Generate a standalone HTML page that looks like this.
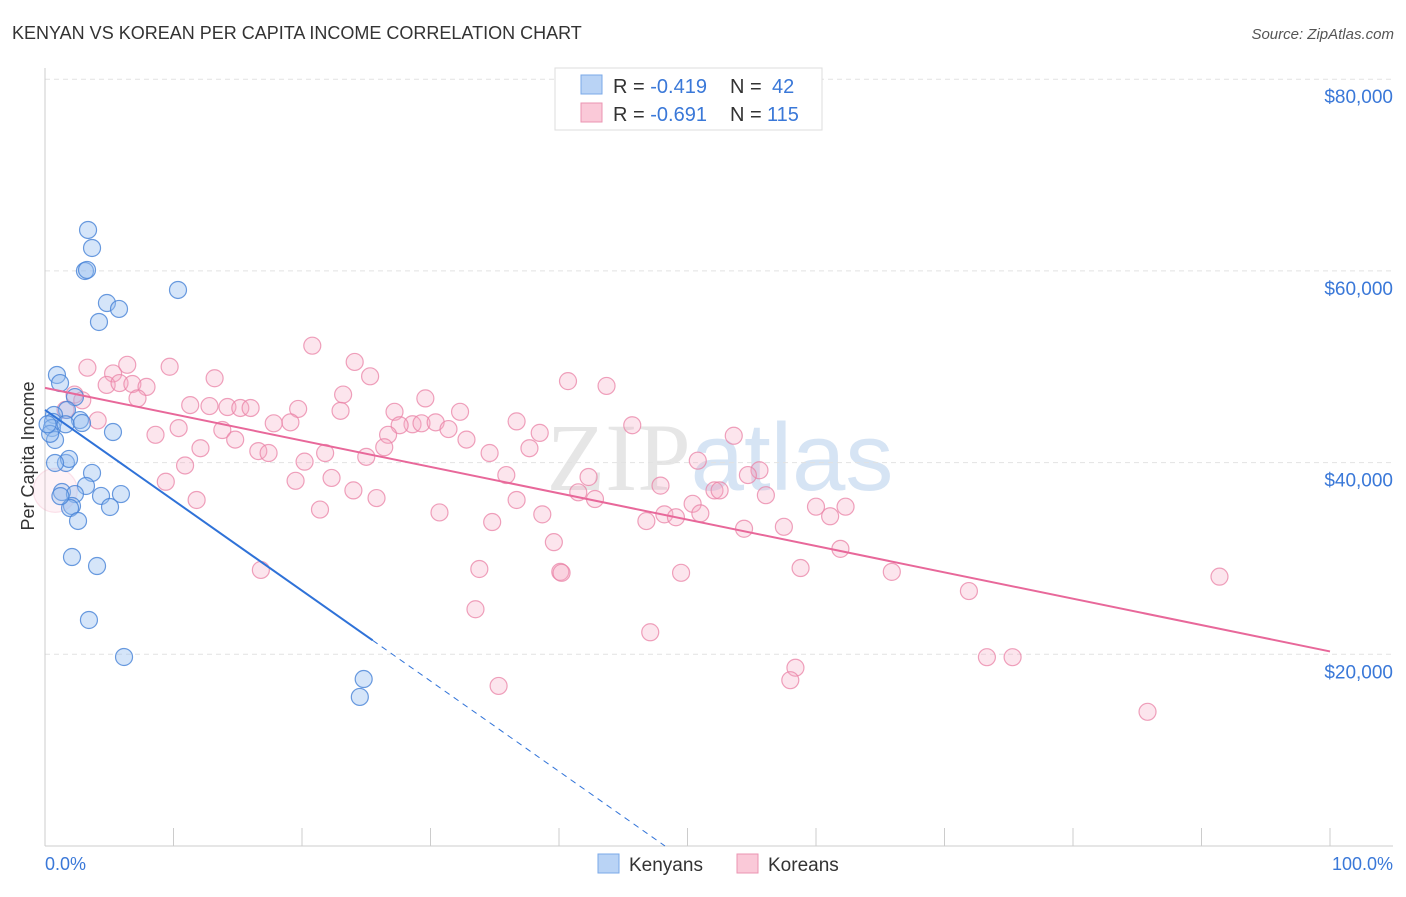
<!DOCTYPE html>
<html><head><meta charset="utf-8"><style>
body{margin:0;background:#fff;font-family:"Liberation Sans",sans-serif;}
</style></head><body>
<svg id="chart" width="1406" height="892" xmlns="http://www.w3.org/2000/svg">
<text x="12" y="39" font-size="18" fill="#333">KENYAN VS KOREAN PER CAPITA INCOME CORRELATION CHART</text>
<text x="1394" y="39" font-size="15" fill="#555" font-style="italic" text-anchor="end">Source: ZipAtlas.com</text>
<text x="720" y="490" font-size="96" fill="#e6e6e6" text-anchor="middle" font-family="Liberation Serif, serif">ZIP<tspan fill="#d6e4f4" font-family="Liberation Sans, sans-serif">atlas</tspan></text>
<g id="grid"></g><g id="axes"></g><g id="pts"></g><g id="lines"></g>
<text transform="translate(34,456) rotate(-90)" font-size="18" fill="#333" text-anchor="middle">Per Capita Income</text>
<text x="45" y="870" font-size="18" fill="#3a78d8">0.0%</text>
<text x="1393" y="870" font-size="18" fill="#3a78d8" text-anchor="end">100.0%</text>
<g>
<rect x="555" y="68" width="267" height="62" fill="#fff" stroke="#ddd"/>
<rect x="581" y="75" width="21" height="19" fill="#b9d3f5" stroke="#7aa8e8"/>
<rect x="581" y="103" width="21" height="19" fill="#fac9d8" stroke="#eb94b2"/>
<text x="613" y="93" font-size="20" fill="#333">R = <tspan fill="#3a78d8">-0.419</tspan><tspan x="730">N = </tspan><tspan fill="#3a78d8" x="772">42</tspan></text>
<text x="613" y="121" font-size="20" fill="#333">R = <tspan fill="#3a78d8">-0.691</tspan><tspan x="730">N = </tspan><tspan fill="#3a78d8" x="767">115</tspan></text>
</g>
<g>
<rect x="598" y="854" width="21" height="19" fill="#b9d3f5" stroke="#7aa8e8"/>
<text x="629" y="871" font-size="19" fill="#333">Kenyans</text>
<rect x="737" y="854" width="21" height="19" fill="#fac9d8" stroke="#eb94b2"/>
<text x="768" y="871" font-size="19" fill="#333">Koreans</text>
</g>
</svg>
<script>
const yTicks=[20000,40000,60000,80000];
const yTickLabels=["$20,000","$40,000","$60,000","$80,000"];
const kenX=[3.35,3.66,3.11,3.27,10.35,4.82,5.76,4.2,0.93,1.17,2.33,1.71,0.7,0.62,0.54,2.72,2.88,5.29,0.78,1.63,1.87,0.78,3.66,3.19,1.32,2.33,4.36,5.91,2.1,1.95,5.06,2.57,2.1,4.05,3.42,6.15,24.8,24.5,0.4,1.2,0.2,1.6];
const kenY=[64270,62390,59990,60100,58010,56650,56030,54670,49140,48300,46840,45490,44970,44240,43610,44440,44130,43190,42360,39960,40380,39960,38920,37560,36930,36720,36520,36720,35470,35260,35370,33910,30150,29210,23580,19720,17420,15550,43000,36500,44000,44000];
const korX=[20.8,24.1,6.4,3.3,9.7,5.3,25.3,13.2,40.7,43.7,4.8,5.8,6.8,7.9,2.3,7.2,23.2,29.6,2.9,1.6,11.3,12.8,14.2,15.2,16.0,19.7,23.0,27.2,32.3,36.7,19.1,17.8,4.1,10.4,13.8,8.6,14.8,28.6,29.3,30.4,31.4,32.8,27.6,26.7,38.5,45.7,53.6,16.6,12.1,17.4,26.4,21.8,37.7,34.6,25.0,10.9,20.2,50.8,55.6,54.7,35.9,42.3,22.3,9.4,19.5,47.9,52.1,52.5,56.1,41.5,42.8,24.0,25.8,36.7,11.8,50.4,60.0,62.3,21.4,30.7,38.7,48.2,49.1,51.0,61.1,34.8,46.8,54.4,57.5,39.6,61.9,58.8,16.8,33.8,40.1,40.2,49.5,65.9,91.4,71.9,33.5,47.1,73.3,75.3,58.4,58.0,35.3,85.8,0.8];
const korY=[52200,50500,50200,49900,50000,49300,49000,48800,48500,48000,48100,48300,48200,47900,47100,46700,47100,46700,46500,45500,46000,45900,45800,45700,45700,45600,45400,45300,45300,44300,44200,44100,44400,43600,43400,42900,42400,44000,44100,44200,43500,42400,43900,42900,43100,43900,42800,41200,41500,41000,41600,41000,41500,41000,40600,39700,40100,40200,39200,38700,38700,38500,38400,38000,38100,37600,37100,37100,36600,36900,36200,37100,36300,36100,36100,35700,35400,35400,35100,34800,34600,34600,34300,34700,34400,33800,33900,33100,33300,31700,31000,29000,28800,28900,28600,28500,28500,28600,28100,26600,24700,22300,19700,19700,18600,17300,16700,14000,37100];
const kenTrend=[45500,-48800];
const korTrend=[47800,20300];
const NS="http://www.w3.org/2000/svg";
const X0=45,X1=1330,Y0=846,YPX=191.7/20000;
const sx=v=>X0+(X1-X0)*v/100, sy=v=>Y0-v*YPX;
function mk(tag,at,parent){const e=document.createElementNS(NS,tag);for(const k in at)e.setAttribute(k,at[k]);document.getElementById(parent).appendChild(e);return e;}
yTicks.forEach((t,i)=>{
 const g=mk('line',{x1:45,x2:1393,y1:sy(t),y2:sy(t),stroke:'#e2e2e2','stroke-dasharray':'5,4'},'grid');
 
 
 const l=mk('text',{x:1393,y:sy(t)+24,'font-size':19,fill:'#3a78d8','text-anchor':'end'},'grid');
 l.textContent=yTickLabels[i];
 
 
});
const ax=mk('line',{x1:45,x2:45,y1:68,y2:846,stroke:'#ccc'},'axes');


const bx=mk('line',{x1:45,x2:1393,y1:846,y2:846,stroke:'#ccc'},'axes');


for(let i=0;i<=10;i++){const t=mk('line',{x1:sx(i*10),x2:sx(i*10),y1:828,y2:846,stroke:'#ccc'},'axes');
 
 }
korX.forEach((x,i)=>{const big=i===korX.length-1;
 const c=mk('circle',{cx:sx(x),cy:sy(korY[i]),r:big?22:8.5,fill:'rgba(246,170,196,'+(big?0.15:0.3)+')',stroke:'rgba(234,130,166,'+(big?0.2:0.75)+')','stroke-width':1.2},'pts');
 
 });
kenX.forEach((x,i)=>{const c=mk('circle',{cx:sx(x),cy:sy(kenY[i]),r:8.5,fill:'rgba(150,190,240,0.4)',stroke:'rgba(70,130,215,0.8)','stroke-width':1.2},'pts');
 
 });
const kAt=p=>kenTrend[0]+(kenTrend[1]-kenTrend[0])*p/100;
const ksolid=mk('line',{x1:sx(0),y1:sy(kAt(0)),x2:sx(25.5),y2:sy(kAt(25.5)),stroke:'#2f72d8','stroke-width':2},'lines');


const pz=100*kenTrend[0]/(kenTrend[0]-kenTrend[1]);
const kd=mk('line',{x1:sx(25.5),y1:sy(kAt(25.5)),x2:sx(pz),y2:sy(0),stroke:'#2f72d8','stroke-width':1,'stroke-dasharray':'6,5'},'lines');


const kt=mk('line',{x1:sx(0),y1:sy(korTrend[0]),x2:sx(100),y2:sy(korTrend[1]),stroke:'#e8689a','stroke-width':2},'lines');


</script>
</body></html>
